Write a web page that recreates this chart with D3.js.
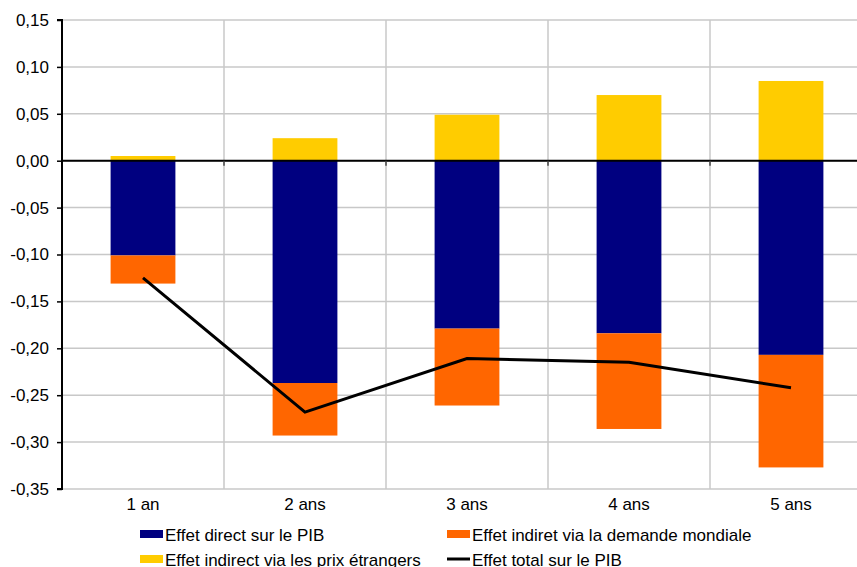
<!DOCTYPE html>
<html><head><meta charset="utf-8">
<script src="https://cdn.jsdelivr.net/npm/d3@7"></script>
<style>
html,body{margin:0;padding:0;background:#fff;}
svg{display:block;font-family:"Liberation Sans",Arial,sans-serif;}
</style></head>
<body>
<svg id="chart" width="857" height="567"></svg>
<script>
const categories = ["1 an", "2 ans", "3 ans", "4 ans", "5 ans"];
const directEffect = [-0.101, -0.237, -0.179, -0.184, -0.207];
const worldDemandEffect = [-0.030, -0.056, -0.082, -0.102, -0.120];
const foreignPriceEffect = [0.005, 0.024, 0.049, 0.070, 0.085];
const totalEffect = [-0.125, -0.268, -0.211, -0.215, -0.242];
const yTicks = [0.15, 0.10, 0.05, 0.00, -0.05, -0.10, -0.15, -0.20, -0.25, -0.30, -0.35];
const seriesNames = ["Effet direct sur le PIB", "Effet indiret via la demande mondiale",
                     "Effet indirect via les prix étrangers", "Effet total sur le PIB"];
const colors = {direct: "#000080", demand: "#FF6600", price: "#FFCC00", total: "#000000"};

const svg = d3.select("#chart");
const pLeft = 62, pRight = 872, pTop = 20, pBottom = 489;
const fs = 17;

const x = d3.scaleBand().domain(categories).range([pLeft, pRight]).paddingInner(0.6).paddingOuter(0.3);
const y = d3.scaleLinear().domain([-0.35, 0.15]).range([pBottom, pTop]);
const step = x.step();
const fmt = v => d3.format(".2f")(v).replace(".", ",").replace("−", "-");

// horizontal gridlines
svg.append("g").selectAll("line").data(yTicks).join("line")
  .attr("x1", pLeft).attr("x2", 857)
  .attr("y1", d => y(d)).attr("y2", d => y(d))
  .attr("stroke", "#c8c8c8").attr("stroke-width", 1.5);

// vertical gridlines at category boundaries
const bounds = d3.range(1, categories.length).map(i => pLeft + i * step);
svg.append("g").selectAll("line").data(bounds).join("line")
  .attr("x1", d => d).attr("x2", d => d)
  .attr("y1", pTop).attr("y2", pBottom)
  .attr("stroke", "#c8c8c8").attr("stroke-width", 1.5);

// bars
const data = categories.map((c, i) => ({c, d: directEffect[i], w: worldDemandEffect[i], p: foreignPriceEffect[i]}));
const g = svg.append("g");
g.selectAll(".p").data(data).join("rect")
  .attr("x", d => x(d.c)).attr("width", x.bandwidth())
  .attr("y", d => y(d.p)).attr("height", d => y(0) - y(d.p))
  .attr("fill", colors.price);
g.selectAll(".d").data(data).join("rect")
  .attr("x", d => x(d.c)).attr("width", x.bandwidth())
  .attr("y", y(0)).attr("height", d => y(d.d) - y(0))
  .attr("fill", colors.direct);
g.selectAll(".w").data(data).join("rect")
  .attr("x", d => x(d.c)).attr("width", x.bandwidth())
  .attr("y", d => y(d.d)).attr("height", d => y(d.d + d.w) - y(d.d))
  .attr("fill", colors.demand);

// zero line + category ticks
svg.append("line").attr("x1", pLeft).attr("x2", 857).attr("y1", y(0)).attr("y2", y(0))
  .attr("stroke", "#000").attr("stroke-width", 2);
svg.append("g").selectAll("line").data(bounds).join("line")
  .attr("x1", d => d).attr("x2", d => d).attr("y1", y(0)).attr("y2", y(0) + 5)
  .attr("stroke", "#444").attr("stroke-width", 1.5);

// total line
const line = d3.line().x((d, i) => x(categories[i]) + x.bandwidth() / 2).y(d => y(d));
svg.append("path").datum(totalEffect).attr("d", line)
  .attr("fill", "none").attr("stroke", colors.total).attr("stroke-width", 3)
  .attr("stroke-linejoin", "miter");

// y axis
const yAxis = d3.axisLeft(y).tickValues(yTicks).tickFormat(fmt).tickSize(5).tickPadding(8);
const ya = svg.append("g").attr("transform", `translate(${pLeft},0)`).call(yAxis);
ya.select(".domain").attr("stroke", "#000").attr("stroke-width", 2).attr("d", `M-5,${pTop}H0V${pBottom}H-5`);
ya.selectAll(".tick line").attr("stroke", "#000").attr("stroke-width", 1.5);
ya.selectAll("text").attr("font-size", fs).attr("fill", "#000")
  .attr("font-family", "'Liberation Sans',Arial,sans-serif");

// x labels
svg.append("g").selectAll("text").data(categories).join("text")
  .attr("x", d => x(d) + x.bandwidth() / 2).attr("y", 510)
  .attr("text-anchor", "middle").attr("font-size", fs).attr("fill", "#000").text(d => d);

// legend
const legend = [
  {name: seriesNames[0], type: "rect", color: colors.direct, lx: 140, ly: 534},
  {name: seriesNames[1], type: "rect", color: colors.demand, lx: 447, ly: 534},
  {name: seriesNames[2], type: "rect", color: colors.price, lx: 140, ly: 559},
  {name: seriesNames[3], type: "line", color: colors.total, lx: 447, ly: 559}
];
const lg = svg.append("g").selectAll("g").data(legend).join("g")
  .attr("transform", d => `translate(${d.lx},${d.ly})`);
lg.filter(d => d.type === "rect").append("rect")
  .attr("x", 0).attr("y", -4).attr("width", 23).attr("height", 8).attr("fill", d => d.color);
lg.filter(d => d.type === "line").append("line")
  .attr("x1", 0).attr("x2", 23).attr("y1", 0).attr("y2", 0).attr("stroke", d => d.color).attr("stroke-width", 3);
lg.append("text").attr("x", 25).attr("y", 6.5).attr("font-size", fs).attr("fill", "#000").text(d => d.name);
</script>
</body></html>
